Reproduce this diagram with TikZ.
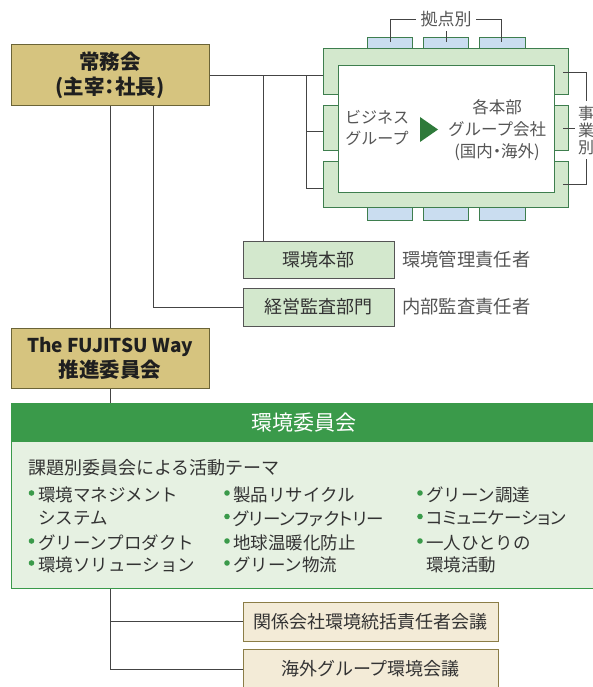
\documentclass[tikz,border=0pt]{standalone}
\usepackage{fontspec}
\setmainfont{Noto Sans CJK JP}
\newfontfamily\paltfont[RawFeature=+palt]{Noto Sans CJK JP}
\definecolor{goldF}{HTML}{D6C47F}
\definecolor{goldB}{HTML}{6B6437}
\definecolor{lgreen}{HTML}{D3E8CD}
\definecolor{frameB}{HTML}{3E7E4E}
\definecolor{tabF}{HTML}{CADDF0}
\definecolor{hdr}{HTML}{3A9A4A}
\definecolor{bodyF}{HTML}{E6F1E2}
\definecolor{tanF}{HTML}{F3EBD7}
\definecolor{tanB}{HTML}{8B7D47}
\definecolor{txt}{HTML}{333333}
\definecolor{ltxt}{HTML}{555555}
\definecolor{lineC}{HTML}{444444}
\definecolor{boxB}{HTML}{555555}
\definecolor{tri}{HTML}{2E7A3A}
\begin{document}
\begin{tikzpicture}[x=1pt,y=-1pt,
  conn/.style={draw=lineC, line width=1pt},
  goldbox/.style={draw=goldB, fill=goldF, line width=1pt, minimum width=198pt, minimum height=61pt, inner sep=0pt, align=center, font=\bfseries\fontsize{20.5}{25}\selectfont, text=black!88},
  greenbox/.style={draw=boxB, fill=lgreen, line width=1pt, minimum width=151pt, minimum height=38pt, inner sep=0pt, font=\fontsize{18}{21}\selectfont, text=txt},
  tanbox/.style={draw=tanB, fill=tanF, line width=1pt, minimum width=255pt, minimum height=39pt, inner sep=0pt, font=\fontsize{18}{21}\selectfont, text=txt},
  lbl/.style={inner sep=0pt, font=\fontsize{17.5}{21}\selectfont, text=txt},
  rlbl/.style={inner sep=0pt, font=\fontsize{18.3}{21}\selectfont, text=ltxt},
  glbl/.style={inner sep=0pt, font=\fontsize{16}{21}\selectfont, text=ltxt, align=center},
  tabbox/.style={draw=frameB, fill=tabF, line width=0.9pt},
  dot/.style={fill=hdr}
]
\useasboundingbox (0,0) rectangle (593,687);
\clip (0,0) rectangle (593,687);

% ---- top-right group frame ----
\draw[tabbox] (367,37) rectangle (412,49);
\draw[tabbox] (423,37) rectangle (468,49);
\draw[tabbox] (479,37) rectangle (525,49);
\draw[tabbox] (367,207) rectangle (412,220);
\draw[tabbox] (423,207) rectangle (468,220);
\draw[tabbox] (479,207) rectangle (525,220);
\draw[fill=lgreen, draw=frameB, line width=1pt] (323,49) -- (568,49) -- (568,95) -- (554,95) -- (554,106) -- (568,106) -- (568,151) -- (554,151) -- (554,162) -- (568,162) -- (568,207) -- (323,207) -- (323,162) -- (338,162) -- (338,151) -- (323,151) -- (323,106) -- (338,106) -- (338,95) -- (323,95) -- cycle;
\node[draw=frameB, fill=white, line width=1pt, minimum width=216pt, minimum height=127pt, inner sep=0pt, anchor=north west] (grp) at (338,65) {};
\node[glbl] (biz) at (377,128) {ビジネス\\グループ};
\fill[tri] (420,117) -- (438,129.5) -- (420,142) -- cycle;
\node[glbl, font=\fontsize{16.5}{22}\selectfont] (each) at (497,130) {各本部\\グループ会社\\{\paltfont (国内・海外)}};

% bracket top
\node[glbl, font=\fontsize{17}{21}\selectfont] (kyoten) at (446,19) {拠点別};
\coordinate (k1) at (390,42);
\coordinate (k2) at (501,42);
\draw[conn, line width=0.9pt] (k1) |- ([xshift=-4pt]kyoten.west);
\draw[conn, line width=0.9pt] (k2) |- ([xshift=4pt]kyoten.east);
\draw[conn, line width=0.9pt] (446,42) -- ([yshift=-4pt]kyoten.south);

% bracket right
\node[glbl, font=\fontsize{16}{17}\selectfont] (jigyo) at (586,130) {事\\業\\別};
\coordinate (r1) at (563,72);
\coordinate (r2) at (563,128);
\coordinate (r3) at (563,184);
\draw[conn, line width=0.9pt] (r1) -- (586,72) -- ([yshift=4pt]jigyo.north);
\draw[conn, line width=0.9pt] (r3) -- (586,184) -- ([yshift=-4pt]jigyo.south);
\draw[conn, line width=0.9pt] (r2) -- ([xshift=-3pt]jigyo.west |- r2);

% ---- main boxes ----
\node[goldbox] (jomu) at (110,75.5) {常務会\\{\paltfont\bfseries (主宰：社長)}};
\node[goldbox, minimum height=60pt] (way) at (110,358) {{\fontsize{19}{25}\selectfont The FUJITSU Way}\\推進委員会};
\node[greenbox, minimum height=37pt] (hq) at (318.5,259.5) {環境本部};
\node[greenbox] (audit) at (318.5,307) {経営監査部門};
\node[rlbl, anchor=west] (hqr) at (402,260) {環境管理責任者};
\node[rlbl, anchor=west] (audr) at (402,307) {内部監査責任者};

% connectors top
\coordinate (fA) at (323,75.5);
\coordinate (j1) at (263,75.5);
\coordinate (j2) at (306,75.5);
\coordinate (fB) at (323,132);
\coordinate (fC) at (323,188);
\draw[conn] (jomu.east) -- (fA);
\draw[conn] (j1) -- (j1 |- hq.north);
\draw[conn] (j2) |- (fC);
\draw[conn] (j2 |- fB) -- (fB);
\draw[conn] (jomu.south) -- (way.north);
\draw[conn] ([xshift=43pt]jomu.south) |- (audit.west);

% ---- environment committee ----
\node[draw=hdr, fill=bodyF, line width=1pt, minimum width=585pt, minimum height=185pt, inner sep=0pt, anchor=north west] (body) at (11,403) {};
\node[fill=hdr, minimum width=585pt, minimum height=39pt, inner sep=0pt, anchor=north west] (ecom) at (11,403) {};
\node[inner sep=0pt, text=white, font=\fontsize{21}{24}\selectfont] (ecomt) at (303.5,422.5) {環境委員会};
\draw[conn] (way.south) -- (way.south |- ecom.north);

\node[lbl, anchor=west, font=\fontsize{18}{21}\selectfont] (theme) at (28,468) {課題別委員会による活動テーマ};

\fill[dot] (31.5,493) circle (2.8);
\node[lbl, anchor=west] (a1) at (38,495) {環境マネジメント};
\node[lbl, anchor=west] (a2) at (38,518.5) {システム};
\fill[dot] (31.5,541) circle (2.8);
\node[lbl, anchor=west] (a3) at (38,543) {グリーンプロダクト};
\fill[dot] (31.5,563) circle (2.8);
\node[lbl, anchor=west] (a4) at (38,565) {環境ソリューション};

\fill[dot] (227,493) circle (2.8);
\node[lbl, anchor=west] (b1) at (233,495) {製品リサイクル};
\fill[dot] (227,516.5) circle (2.8);
\node[lbl, anchor=west] (b2) at (233,518.5) {\paltfont グリーンファクトリー};
\fill[dot] (227,541) circle (2.8);
\node[lbl, anchor=west] (b3) at (233,543) {地球温暖化防止};
\fill[dot] (227,563) circle (2.8);
\node[lbl, anchor=west] (b4) at (233,565) {グリーン物流};

\fill[dot] (420,493) circle (2.8);
\node[lbl, anchor=west] (c1) at (426,495) {グリーン調達};
\fill[dot] (420,516.5) circle (2.8);
\node[lbl, anchor=west] (c2) at (426,518.5) {\paltfont コミュニケーション};
\fill[dot] (420,541) circle (2.8);
\node[lbl, anchor=west] (c3) at (426,543) {一人ひとりの};
\node[lbl, anchor=west] (c4) at (426,565) {環境活動};

% ---- bottom meetings ----
\node[tanbox] (kankei) at (370.5,621.5) {関係会社環境統括責任者会議};
\node[tanbox] (kaigai) at (370.5,669) {海外グループ環境会議};
\draw[conn] (body.south -| way.south) |- (kankei.west);
\draw[conn] (body.south -| way.south) |- (kaigai.west);
\end{tikzpicture}
\end{document}
